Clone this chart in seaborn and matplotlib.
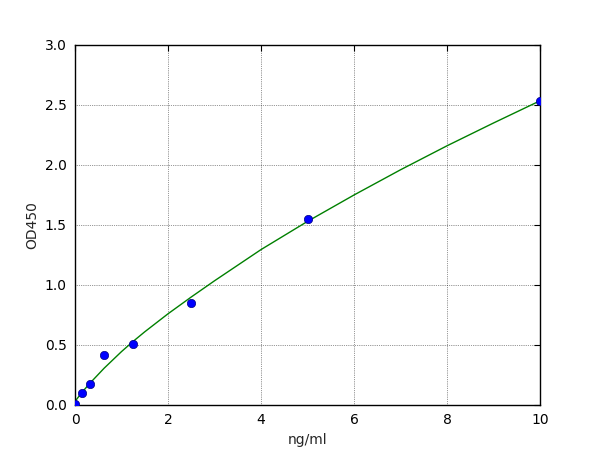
import matplotlib
matplotlib.use("Agg")
import matplotlib.pyplot as plt
import seaborn as sns
import pandas as pd

# Standard points
conc = [0.0, 0.156, 0.3125, 0.625, 1.25, 2.5, 5.0, 10.0]
od = [0.005, 0.10, 0.175, 0.415, 0.507, 0.848, 1.546, 2.535]

# Fitted curve
curve_x = [0.0, 0.156, 0.3125, 0.625, 1.0, 1.25, 1.5, 2.0, 2.5, 3.0, 4.0, 5.0, 6.0, 7.0, 8.0, 9.0, 10.0]
curve_y = [0.03, 0.108, 0.178, 0.306, 0.445, 0.53, 0.61, 0.76, 0.90, 1.035, 1.295, 1.53, 1.75, 1.96, 2.16, 2.35, 2.535]

xticks = [0, 2, 4, 6, 8, 10]
yticks = [0.0, 0.5, 1.0, 1.5, 2.0, 2.5, 3.0]

sns.set_style("white")
plt.rcParams['font.family'] = ['DejaVu Sans']

fig = plt.figure(figsize=(6, 4.5), dpi=100)
ax = fig.add_axes([0.125, 0.1, 0.775, 0.8])

sns.lineplot(x=curve_x, y=curve_y, ax=ax, color=(0, 0.5, 0), linewidth=1.0, zorder=2)
sns.scatterplot(x=conc, y=od, ax=ax, color=(0, 0, 1), s=36, edgecolor=(0, 0, 0.5), linewidth=0.5, zorder=3)

ax.set_xlim(0, 10)
ax.set_ylim(0, 3.0)
ax.set_xticks(xticks)
ax.set_yticks(yticks)
ax.set_xticklabels([str(t) for t in xticks])
ax.set_yticklabels([f"{t:.1f}" for t in yticks])
ax.grid(True, color="black", linestyle=":", linewidth=0.5, alpha=0.8)
ax.set_axisbelow(True)
for s in ax.spines.values():
    s.set_color("black")
    s.set_linewidth(1.0)
ax.tick_params(direction="in", top=True, right=True, length=4, width=0.8, labelsize=10, colors="black", pad=6)
ax.set_xlabel("ng/ml", fontsize=10)
ax.set_ylabel("OD450", fontsize=10)

fig.savefig("out.png", dpi=100, facecolor="white")
